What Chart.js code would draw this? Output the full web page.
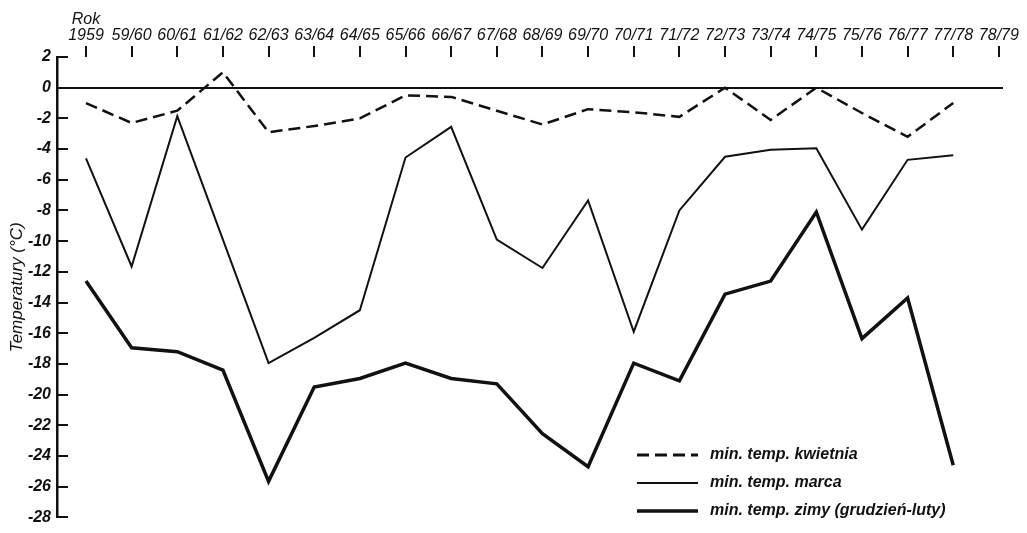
<!DOCTYPE html>
<html>
<head>
<meta charset="utf-8">
<title>Temperatury minimalne</title>
<script src="https://cdn.jsdelivr.net/npm/chart.js@4.4.1/dist/chart.umd.min.js"></script>
<style>
    body { margin: 0; background: #fff; }
    #wrap { width: 1027px; height: 533px; }
</style>
</head>
<body>
<div id="wrap"><canvas id="tempChart" width="1027" height="533"></canvas></div>
<script>
// Sezony (oś X, na górze)
const seasons = ["1959", "59/60", "60/61", "61/62", "62/63", "63/64", "64/65", "65/66", "66/67", "67/68",
    "68/69", "69/70", "70/71", "71/72", "72/73", "73/74", "74/75", "75/76", "76/77", "77/78", "78/79"];

// Minimalna temperatura kwietnia (linia przerywana)
const aprilMin = [-1.0, -2.3, -1.5, 1.0, -2.9, -2.5, -2.0, -0.5, -0.6, -1.5,
    -2.4, -1.4, -1.6, -1.9, 0.0, -2.1, 0.0, -1.65, -3.2, -1.0];

// Minimalna temperatura marca (cienka linia)
const marchMin = [-4.6, -11.65, -1.85, -9.9, -17.95, -16.3, -14.5, -4.55, -2.55, -9.9,
    -11.75, -7.35, -15.9, -8.0, -4.5, -4.05, -3.95, -9.25, -4.7, -4.4];

// Minimalna temperatura zimy, grudzień-luty (gruba linia)
const winterMin = [-12.6, -16.95, -17.2, -18.4, -25.65, -19.5, -18.95, -17.95, -18.95, -19.3,
    -22.55, -24.7, -17.95, -19.1, -13.45, -12.6, -8.1, -16.35, -13.7, -24.6];

// Skala Y
const yMin = -28;
const yMax = 2;
const yStep = 2;

const ink = "#111";
const mainFont = "'Liberation Sans', Arial, sans-serif";

function toPoints(values) {
    return values.map((v, i) => ({ x: i, y: v }));
}

// Kreski podziałki osi Y skierowane do środka wykresu
const inwardTicks = {
    id: "inwardTicks",
    afterDraw(chart) {
        const ctx = chart.ctx;
        const y = chart.scales.y;
        ctx.save();
        ctx.strokeStyle = ink;
        ctx.lineWidth = 2;
        y.ticks.forEach(t => {
            const py = Math.round(y.getPixelForValue(t.value));
            ctx.beginPath();
            ctx.moveTo(y.right, py);
            ctx.lineTo(y.right + 11, py);
            ctx.stroke();
        });
        ctx.restore();
    }
};

// Legenda w prawym dolnym rogu
const cornerLegend = {
    id: "cornerLegend",
    afterDraw(chart) {
        const ctx = chart.ctx;
        ctx.save();
        ctx.font = "italic bold 16px " + mainFont;
        ctx.textBaseline = "middle";
        chart.data.datasets.forEach((ds, i) => {
            const y = 455 + i * 28;
            ctx.strokeStyle = ink;
            ctx.lineWidth = ds.borderWidth + (i === 0 ? 0.5 : 0);
            ctx.setLineDash(ds.borderDash || []);
            ctx.beginPath();
            ctx.moveTo(637, y);
            ctx.lineTo(698, y);
            ctx.stroke();
            ctx.setLineDash([]);
            ctx.fillStyle = ink;
            ctx.fillText(ds.label, 710, y);
        });
        ctx.restore();
    }
};

const ctx = document.getElementById("tempChart").getContext("2d");
new Chart(ctx, {
    type: "line",
    data: {
        datasets: [{
            label: "min. temp. kwietnia",
            data: toPoints(aprilMin),
            borderColor: ink,
            borderWidth: 2.5,
            borderDash: [12, 6],
            pointRadius: 0,
            tension: 0
        }, {
            label: "min. temp. marca",
            data: toPoints(marchMin),
            borderColor: ink,
            borderWidth: 2,
            pointRadius: 0,
            tension: 0
        }, {
            label: "min. temp. zimy (grudzień-luty)",
            data: toPoints(winterMin),
            borderColor: ink,
            borderWidth: 3.5,
            pointRadius: 0,
            tension: 0
        }]
    },
    options: {
        responsive: false,
        animation: false,
        layout: { padding: { left: 0, right: 24, top: 0, bottom: 9 } },
        plugins: {
            legend: { display: false },
            tooltip: { enabled: false }
        },
        scales: {
            x: {
                type: "linear",
                position: "top",
                min: -0.635,
                max: 20.09,
                afterFit: s => { s.height = 57; },
                border: { display: false },
                grid: {
                    drawOnChartArea: false,
                    drawTicks: true,
                    tickLength: 11,
                    color: ink,
                    lineWidth: 2
                },
                ticks: {
                    stepSize: 1,
                    includeBounds: false,
                    autoSkip: false,
                    maxRotation: 0,
                    padding: 2,
                    color: ink,
                    font: { family: mainFont, size: 16, style: "italic", lineHeight: 1.0 },
                    callback: v => v === 0 ? ["Rok", seasons[0]] : seasons[v]
                }
            },
            y: {
                min: yMin,
                max: yMax,
                afterFit: s => { s.width = 57; },
                border: { display: true, color: ink, width: 2.5 },
                grid: {
                    drawTicks: false,
                    lineWidth: 2,
                    color: c => c.tick && c.tick.value === 0 ? ink : "rgba(0,0,0,0)"
                },
                ticks: {
                    stepSize: yStep,
                    padding: 6,
                    color: ink,
                    font: { family: mainFont, size: 16, style: "italic", weight: "bold" }
                },
                title: {
                    display: true,
                    text: "Temperatury (°C)",
                    color: ink,
                    padding: { top: 7, bottom: 0 },
                    font: { family: mainFont, size: 17, style: "italic" }
                }
            }
        }
    },
    plugins: [inwardTicks, cornerLegend]
});
</script>
</body>
</html>
